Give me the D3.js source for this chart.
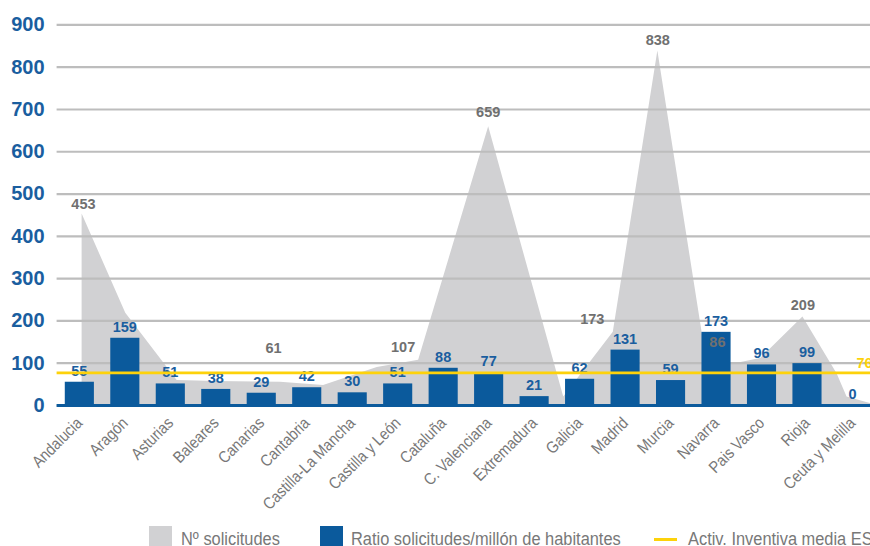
<!DOCTYPE html>
<html><head><meta charset="utf-8">
<script src="https://cdn.jsdelivr.net/npm/d3@7"></script>
<style>
html,body{margin:0;padding:0;background:#fff;}
svg{display:block;}
text{font-family:"Liberation Sans",Arial,Helvetica,sans-serif;}
</style></head>
<body>
<svg id="c" width="870" height="546"></svg>
<script>
// ---- data ----
const categories = ["Andalucia","Aragón","Asturias","Baleares","Canarias","Cantabria","Castilla-La Mancha","Castilla y León","Cataluña","C. Valenciana","Extremadura","Galicia","Madrid","Murcia","Navarra","Pais Vasco","Rioja","Ceuta y Melilla"];
const ratioValues = [55,159,51,38,29,42,30,51,88,77,21,62,131,59,173,96,99,0];
// Nº solicitudes outline as drawn: [position in category units, value]
const solicitudesPos = [0.05,1.01,2.14,3.0,4.41,5.36,6.54,7.45,8.99,10.64,11.73,12.71,13.81,14.97,15.90,16.65,16.87,17.38,17.5];
const solicitudesVal = [453,218,59,57,55,47,90,107,659,20,173,838,86,111,209,75,20,5,3];
// visible value labels of Nº solicitudes: text, position (category units), value level of label centre
const solLabelText = ["453","61","107","659","173","838","86","209"];
const solLabelPos = [0.09,4.27,7.12,8.99,11.28,12.72,14.03,15.91];
const solLabelLevel = [477,135,137,693,203,863,149,236];
const mediaES = 76;
const yTicks = [0,100,200,300,400,500,600,700,800,900];
const legendItems = ["Nº solicitudes","Ratio solicitudes/millón de habitantes","Activ. Inventiva media ES"];

// ---- styles ----
const BLUE = "#0b5a9c", BLUE_TXT = "#1a5e9f", GRAY_AREA = "#d1d1d3", GRID = "#bdbdbd",
      GRAY_TXT = "#707070", GRAY_LBL = "#787878", YELLOW = "#fdd20a";

const svg = d3.select("#c");
const pLeft = 56.6, pRight = 875.2, pTop = 24.4, pBottom = 405;

const x = d3.scaleBand().domain(categories).range([pLeft, pRight]).paddingInner(0.36).paddingOuter(0.18);
const cx = c => x(c) + x.bandwidth()/2;
const u = d3.scaleLinear().domain([0, categories.length-1]).range([cx(categories[0]), cx(categories[categories.length-1])]);
const y = d3.scaleLinear().domain([0, 900]).range([pBottom, pTop]);

// area
const areaPts = solicitudesPos.map((p,i)=>[p, solicitudesVal[i]]);
svg.append("path")
  .datum(areaPts)
  .attr("fill", GRAY_AREA)
  .attr("d", d3.area().x(d=>u(d[0])).y0(y(0)).y1(d=>y(d[1])));

// gridlines + y labels
const yAxis = d3.axisLeft(y).tickValues(yTicks).tickSize(-(pRight-pLeft)).tickPadding(12);
const gy = svg.append("g").attr("transform", `translate(${pLeft},0)`).call(yAxis);
gy.select(".domain").remove();
gy.selectAll(".tick line").attr("stroke", GRID).attr("stroke-width", 2.2);
gy.selectAll(".tick text").attr("fill", BLUE_TXT).attr("font-size", 20).attr("font-weight", "bold")
  .attr("font-family", "'Liberation Sans',Arial,sans-serif");

// bars
svg.append("g").selectAll("rect").data(categories).join("rect")
  .attr("x", d=>x(d)).attr("width", x.bandwidth())
  .attr("y", (d,i)=>y(ratioValues[i])).attr("height", (d,i)=>y(0)-y(ratioValues[i]))
  .attr("fill", BLUE);

// bar labels
svg.append("g").selectAll("text").data(categories).join("text")
  .attr("x", d=>cx(d)).attr("y", (d,i)=>y(ratioValues[i]) - 6)
  .attr("text-anchor","middle").attr("font-size",14.5).attr("font-weight","bold")
  .attr("fill", BLUE_TXT).text((d,i)=>ratioValues[i]);

// area labels
svg.append("g").selectAll("text").data(solLabelText).join("text")
  .attr("x", (d,i)=>u(solLabelPos[i])).attr("y", (d,i)=>y(solLabelLevel[i]))
  .attr("dy","0.36em").attr("text-anchor","middle").attr("font-size",14.5).attr("font-weight","bold")
  .attr("fill", GRAY_TXT).text(d=>d);

// media line
svg.append("line").attr("x1", pLeft).attr("x2", pRight).attr("y1", y(mediaES)).attr("y2", y(mediaES))
  .attr("stroke", YELLOW).attr("stroke-width", 2.6);
svg.append("text").attr("x", u(categories.length-1)+4).attr("y", y(mediaES)-10).attr("dy","0.36em")
  .attr("font-size",14.5).attr("font-weight","bold").attr("fill", YELLOW).text(mediaES);

// baseline
svg.append("line").attr("x1", pLeft).attr("x2", pRight).attr("y1", y(0)+0.5).attr("y2", y(0)+0.5)
  .attr("stroke", BLUE).attr("stroke-width", 2.8);

// x labels (condensed look)
svg.append("g").selectAll("text").data(categories).join("text")
  .attr("transform", d=>`translate(${cx(d)+4},${pBottom+19}) rotate(-45) scale(0.87,1)`)
  .attr("text-anchor","end").attr("font-size",16.5).attr("fill", GRAY_LBL).text(d=>d);

// legend
const lg = svg.append("g");
lg.append("rect").attr("x",149).attr("y",526).attr("width",23).attr("height",22).attr("fill",GRAY_AREA);
lg.append("rect").attr("x",320).attr("y",526).attr("width",23).attr("height",22).attr("fill",BLUE);
lg.append("line").attr("x1",654).attr("x2",677).attr("y1",539.5).attr("y2",539.5).attr("stroke",YELLOW).attr("stroke-width",3);
const lx = [181, 351, 688];
lg.selectAll("text").data(legendItems).join("text")
  .attr("transform",(d,i)=>`translate(${lx[i]},544.5) scale(0.887,1)`)
  .attr("font-size",18.5).attr("fill", GRAY_LBL).text(d=>d);
</script>
</body></html>
